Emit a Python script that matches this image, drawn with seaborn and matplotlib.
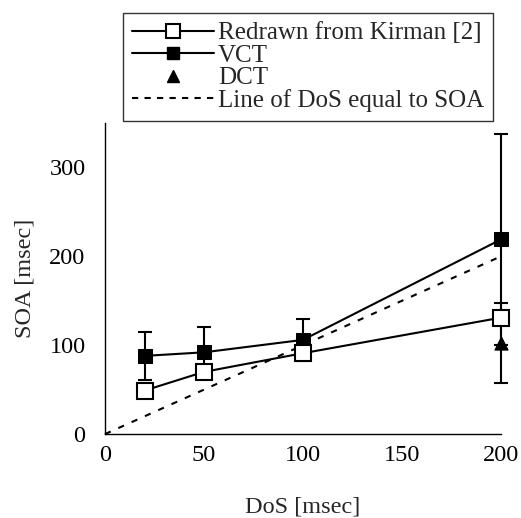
import numpy as np
import pandas as pd
import matplotlib
matplotlib.use("Agg")
import matplotlib.pyplot as plt
from matplotlib.lines import Line2D
import seaborn as sns

# values
dos = [20, 50, 100, 200]
kirman_soa = [49, 70, 91, 131]
vct_soa = [88, 92, 106, 219]
vct_err = [27, 28, 24, 119]
dct_dos = [200]
dct_soa = [103]
dct_err = [45]
ref_line = [0, 200]

sns.set_style("white")
plt.rcParams["font.family"] = ["Liberation Serif", "DejaVu Serif"]
plt.rcParams["font.size"] = 17.5

fig = plt.figure(figsize=(5.21, 5.18), dpi=100)
ax = fig.add_axes([0.2015, 0.162, 0.76, 0.6005])

# line of DoS equal to SOA
sns.lineplot(x=ref_line, y=ref_line, ax=ax, color="black", lw=1.5,
             linestyle=(0, (3, 4)), zorder=1)

# VCT with error bars
ax.errorbar(dos, vct_soa, yerr=vct_err, fmt="none", ecolor="black",
            elinewidth=1.5, capsize=5, capthick=1.5, zorder=2)
sns.lineplot(x=dos, y=vct_soa, ax=ax, color="black", lw=1.5, marker="s",
             markersize=10, markerfacecolor="black", markeredgecolor="black",
             zorder=3)

# DCT
ax.errorbar(dct_dos, dct_soa, yerr=dct_err, fmt="none", ecolor="black",
            elinewidth=1.5, capsize=5, capthick=1.5, zorder=2)
sns.scatterplot(x=dct_dos, y=dct_soa, ax=ax, marker="^", s=90, color="black",
                edgecolor="black", zorder=4)

# Kirman
sns.lineplot(x=dos, y=kirman_soa, ax=ax, color="black", lw=1.5, marker="s",
             markersize=11, markerfacecolor="white", markeredgecolor="black",
             markeredgewidth=1.5, zorder=5)

ax.set_xlim(0, 200)
ax.set_ylim(0, 350)
ax.set_xticks([0, 50, 100, 150, 200])
ax.set_yticks([0, 100, 200, 300])
ax.set_xlabel("DoS [msec]", labelpad=22)
ax.set_ylabel("SOA [msec]", labelpad=10)
for c in ax.collections + ax.lines:
    c.set_clip_on(False)

for s in ["top", "right"]:
    ax.spines[s].set_visible(False)
for s in ["left", "bottom"]:
    ax.spines[s].set_color("black")
    ax.spines[s].set_linewidth(1.0)
ax.tick_params(direction="in", length=6, width=1, colors="black")
ax.tick_params(axis="x", pad=8)
ax.tick_params(axis="y", pad=14)

handles = [
    Line2D([], [], color="black", lw=1.5, marker="s", markersize=10,
           markerfacecolor="white", markeredgewidth=1.5),
    Line2D([], [], color="black", lw=1.5, marker="s", markersize=9,
           markerfacecolor="black"),
    Line2D([], [], color="none", marker="^", markersize=9,
           markerfacecolor="black", markeredgecolor="black"),
    Line2D([], [], color="black", lw=1.5, linestyle=(0, (3, 3))),
]
labels = ["Redrawn from Kirman [2]", "VCT", "DCT", "Line of DoS equal to SOA"]
leg = fig.legend(handles, labels, loc="upper right",
                 bbox_to_anchor=(493 / 521, 1 - 13 / 518), frameon=True,
                 fancybox=False, edgecolor="black", handlelength=3.3,
                 handletextpad=0.15, labelspacing=0.0, borderpad=0.35,
                 borderaxespad=0, fontsize=18)
leg.get_frame().set_linewidth(1.0)

fig.savefig("out.png", dpi=100)
